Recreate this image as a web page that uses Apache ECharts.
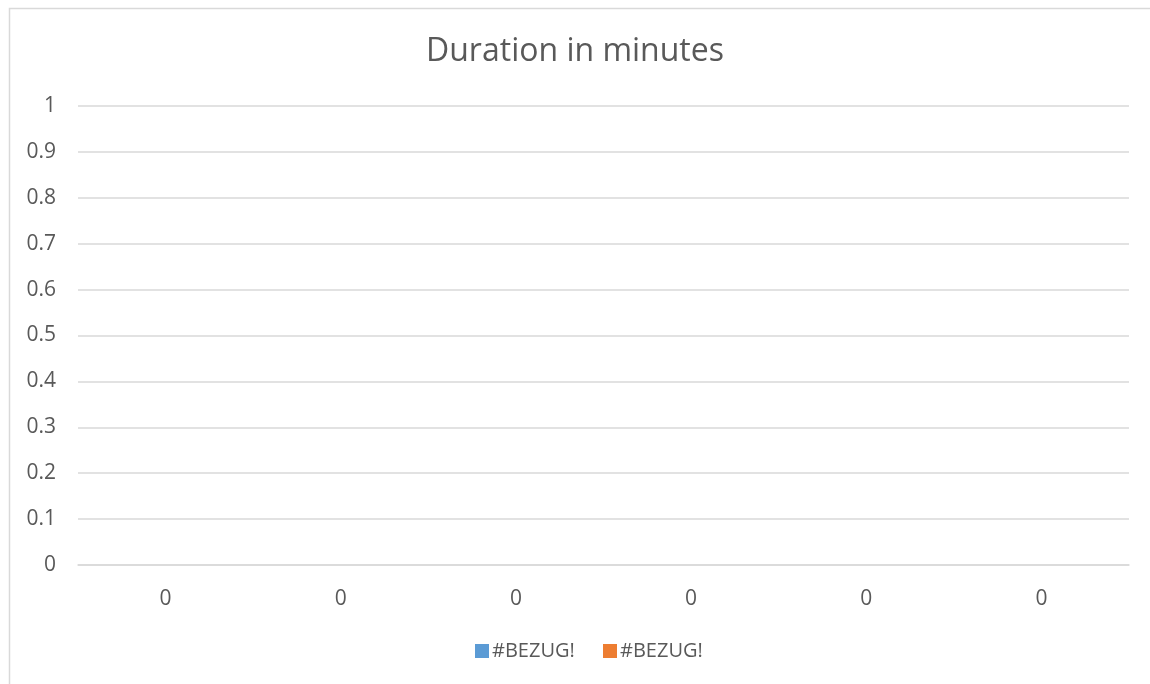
<!DOCTYPE html>
<html><head><meta charset="utf-8">
<script src="https://cdn.jsdelivr.net/npm/echarts@6/dist/echarts.min.js"></script>
<style>html,body{margin:0;padding:0;background:#fff}#c{width:1150px;height:684px}</style>
</head><body><div id="c"></div>
<script>
const categories = ['0','0','0','0','0','0'];
const seriesNames = ['#BEZUG!','#BEZUG!'];
const seriesColors = ['#5B9BD5','#ED7D31'];
const seriesA = [0,0,0,0,0,0];
const seriesB = [0,0,0,0,0,0];
const yTicks = {min:0,max:1,interval:0.1};

const txt = '#595959';
const font = '"Open Sans", "Noto Sans", sans-serif';
const lgText = {fontFamily:font,fontSize:20,color:txt,padding:[0,0,0,-2]};
const chart = echarts.init(document.getElementById('c'));
chart.setOption({
  animation:false,
  color:seriesColors,
  textStyle:{fontFamily:font},
  graphic:[{type:'rect',left:7,top:6,shape:{width:1200,height:750},style:{fill:'none',stroke:'#D9D9D9',lineWidth:1.5},silent:true}],
  title:{text:'Duration in minutes',left:'center',top:31,textStyle:{fontFamily:font,fontSize:32,fontWeight:'normal',color:txt}},
  grid:{left:78,right:21,top:106,bottom:119,containLabel:false},
  legend:[
    {top:636,left:470,itemWidth:14,itemHeight:14,icon:'rect',selectedMode:false,
      data:[{name:seriesNames[0],itemStyle:{color:seriesColors[0]}}],textStyle:lgText},
    {top:636,left:598,itemWidth:14,itemHeight:14,icon:'rect',selectedMode:false,
      data:[{name:seriesNames[1],itemStyle:{color:seriesColors[1]}}],textStyle:lgText}
  ],
  xAxis:{type:'category',data:categories,axisLine:{lineStyle:{color:'#D9D9D9',width:1.5}},axisTick:{show:false},
    axisLabel:{color:txt,fontSize:21,fontFamily:font,margin:24}},
  yAxis:{type:'value',min:yTicks.min,max:yTicks.max,interval:yTicks.interval,
    axisLine:{show:false},axisTick:{show:false},
    splitLine:{lineStyle:{color:'#D9D9D9',width:1.5}},
    axisLabel:{color:txt,fontSize:21,fontFamily:font,margin:22}},
  series:[
    {name:seriesNames[0],type:'bar',data:seriesA},
    {name:seriesNames[1],type:'bar',data:seriesB}
  ]
});
</script></body></html>
